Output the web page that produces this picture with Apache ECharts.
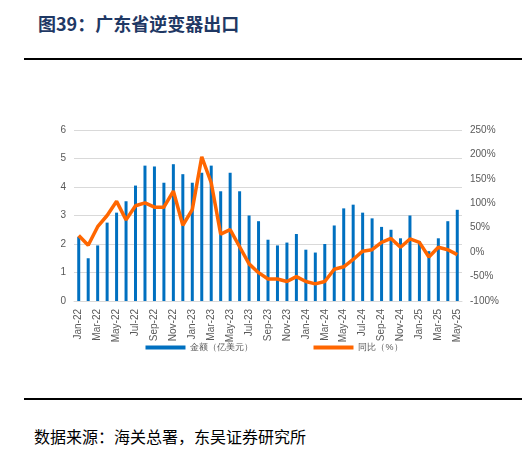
<!DOCTYPE html><html><head><meta charset="utf-8"><script src="https://cdn.jsdelivr.net/npm/echarts@6/dist/echarts.min.js"></script>
<style>body{margin:0;background:#fff;font-family:"Noto Sans CJK SC";}#t{position:absolute;left:38px;top:10px;font-size:18px;font-weight:bold;color:#1f3864;}#l1{position:absolute;left:24px;top:58px;width:498px;border-top:2px solid #000}#l2{position:absolute;left:24px;top:398px;width:498px;border-top:2px solid #000}#s{position:absolute;left:34px;top:424px;font-size:16px;color:#000}#c{position:absolute;left:24px;top:110px;width:500px;height:245px}</style></head><body>
<div id="t">图39：广东省逆变器出口</div><div id="l1"></div><div id="c"></div><div id="l2"></div><div id="s">数据来源：海关总署，东吴证券研究所</div>
<script>
const categories=[];const mn=['Jan','Feb','Mar','Apr','May','Jun','Jul','Aug','Sep','Oct','Nov','Dec'];
for(let y=22;y<=25;y++)for(let m=0;m<12;m++){if(y===25&&m>4)break;categories.push(mn[m]+'-'+y);}
const amount=[2.25,1.5,1.95,2.75,3.1,3.5,4.05,4.75,4.72,4.15,4.8,4.45,4.15,4.5,4.75,3.85,4.5,3.85,3.0,2.8,2.15,1.95,2.05,2.35,1.8,1.7,2.0,2.65,3.25,3.38,3.1,2.9,2.6,2.5,2.2,3.0,2.1,1.75,2.2,2.8,3.2];
const yoy=[34,14,52,75,104,66,95,101,92,92,125,55,87,195,142,37,46,11,-24,-42,-55,-55,-60,-50,-60,-65,-60,-35,-30,-15,2,5,20,28,10,27,20,-10,10,5,-5];
const c=echarts.init(document.getElementById('c'));
const ax={color:'#595959',fontSize:10};
c.setOption({grid:{left:50,right:62,top:20,bottom:54},
legend:{top:228,itemGap:60,textStyle:{fontSize:9,color:'#595959'},data:[{name:'金额（亿美元）',icon:'rect'},{name:'同比（%）',icon:'rect'}],itemWidth:40,itemHeight:4},
xAxis:{type:'category',data:categories,axisTick:{show:false},axisLine:{lineStyle:{color:'#d9d9d9'}},axisLabel:Object.assign({rotate:90,interval:1},ax)},
yAxis:[{type:'value',min:0,max:6,interval:1,axisLabel:ax,splitLine:{lineStyle:{color:'#d9d9d9'}}},
{type:'value',min:-100,max:250,interval:50,axisLabel:Object.assign({formatter:'{value}%'},ax),splitLine:{show:false}}],
series:[{name:'金额（亿美元）',type:'bar',data:amount,barWidth:3,itemStyle:{color:'#0070c0'}},
{name:'同比（%）',type:'line',yAxisIndex:1,data:yoy,symbol:'none',lineStyle:{width:3.5,color:'#ff6600'},itemStyle:{color:'#ff6600'}}]});
</script></body></html>
